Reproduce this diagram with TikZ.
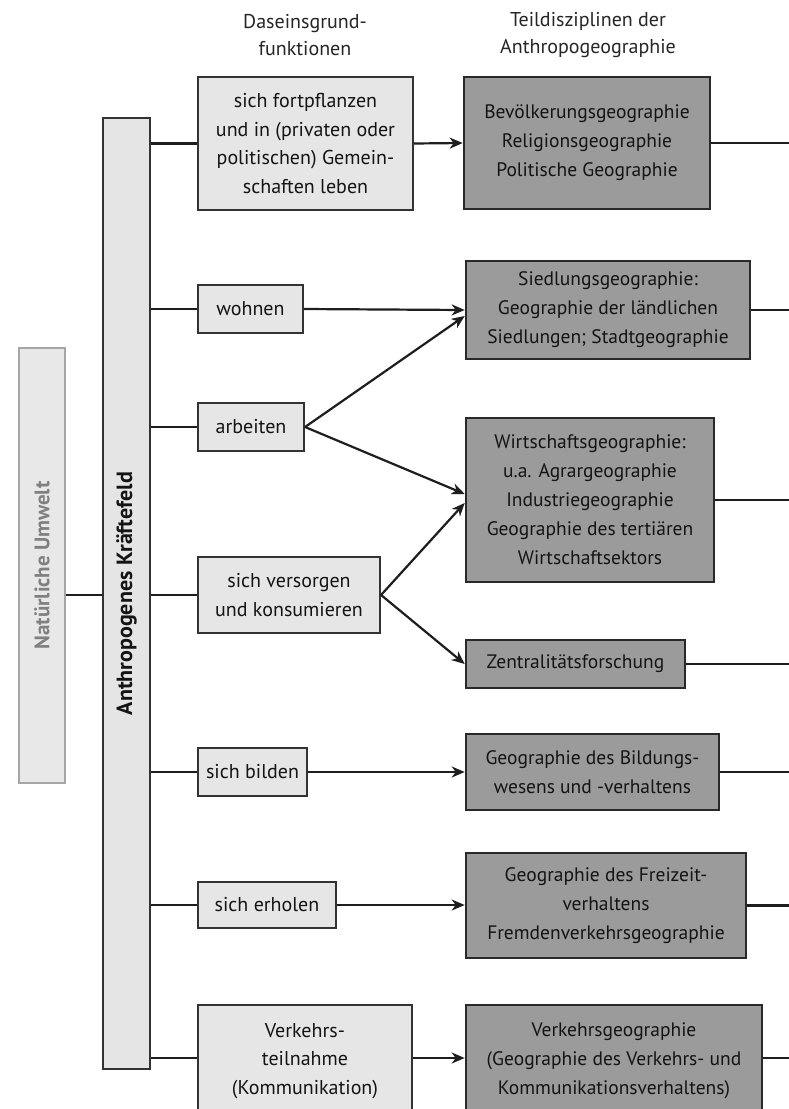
\documentclass[tikz,border=0pt]{standalone}
\usepackage{fontspec}
\setmainfont{PT Sans}
\usetikzlibrary{arrows.meta,calc}
\definecolor{lightfill}{HTML}{E6E6E6}
\definecolor{darkfill}{HTML}{9B9B9B}
\definecolor{edgecol}{HTML}{333333}
\definecolor{linecol}{HTML}{1E1E1E}
\begin{document}
\begin{tikzpicture}[x=1pt,y=-1pt,
  font=\fontsize{20}{28.5}\selectfont,
  lbox/.style={draw=edgecol, fill=lightfill, line width=2.1pt, align=center, inner sep=0pt, text=black!92},
  dbox/.style={draw=edgecol!80!black, fill=darkfill, line width=2.6pt, align=center, inner sep=0pt, text=black!92, font=\fontsize{19.5}{29}\selectfont},
  sz/.style 2 args={minimum width=#1pt, minimum height=#2pt},
  conn/.style={line width=2.2pt, draw=linecol},
  arr/.style={conn, -{Stealth[length=13pt,width=11pt,inset=4pt]}},
  header/.style={align=center, inner sep=0pt, font=\fontsize{20}{27}\selectfont, text=black!85},
  vlabel/.style={rotate=90, inner sep=0pt}
]
\useasboundingbox (0,0) rectangle (789,1109);
\clip (0,0) rectangle (789,1109);
\fill[white] (0,0) rectangle (789,1109);
\coordinate (edge) at (789,0);

% headers
\node[header] (h1) at (305,35) {Daseinsgrund-\\funktionen};
\node[header] (h2) at (588,35) {Teildisziplinen der\\Anthropogeographie};

% vertical bars
\node[draw=black!35, fill=black!9, line width=1.2pt, sz={46}{435}, inner sep=0pt] (nu) at (42,565.5) {};
\node[vlabel, text=black!50, font=\bfseries\fontsize{21}{22}\selectfont] (nut) at (nu.center) {Natürliche Umwelt};
\node[draw=edgecol, fill=black!10, line width=2.1pt, sz={47}{951}, inner sep=0pt] (kf) at (126.5,593.5) {};
\node[vlabel, text=black!92, font=\bfseries\fontsize{22}{24}\selectfont] (kft) at (kf.center) {Anthropogenes Kräftefeld};

% left column (Daseinsgrundfunktionen)
\node[lbox, sz={215}{133}] (b1) at (305.5,143.5) {sich fortpflanzen\\und in (privaten oder\\politischen) Gemein-\\schaften leben};
\node[lbox, sz={105}{48}] (b2) at (250.5,309) {wohnen};
\node[lbox, sz={106}{48}] (b3) at (251,427) {arbeiten};
\node[lbox, sz={182}{76}] (b4) at (289,595) {sich versorgen\\und konsumieren};
\node[lbox, sz={109}{48}] (b5) at (252.5,772) {sich bilden};
\node[lbox, sz={138}{46}] (b6) at (267,905) {sich erholen};
\node[lbox, sz={214}{112}] (b7) at (305,1061) {Verkehrs-\\teilnahme\\(Kommunikation)};

% right column (Teildisziplinen)
\node[dbox, sz={246}{132}] (d1) at (587,143) {Bevölkerungsgeographie\\Religionsgeographie\\Politische Geographie};
\node[dbox, sz={284}{98}] (d2) at (608,310) {Siedlungsgeographie:\\Geographie der ländlichen\\Siedlungen; Stadtgeographie};
\node[dbox, sz={248}{164}] (d3) at (590,500) {Wirtschaftsgeographie:\\u.a. Agrargeographie\\Industriegeographie\\Geographie des tertiären\\Wirtschaftsektors};
\node[dbox, sz={219}{48}] (d4) at (575.5,664) {Zentralitätsforschung};
\node[dbox, sz={253}{76}] (d5) at (592.5,772) {Geographie des Bildungs-\\wesens und -verhaltens};
\node[dbox, sz={280}{105}] (d6) at (606,905.5) {Geographie des Freizeit-\\verhaltens\\Fremdenverkehrsgeographie};
\node[dbox, sz={296}{112}] (d7) at (614,1061) {Verkehrsgeographie\\(Geographie des Verkehrs- und\\Kommunikationsverhaltens)};

% Natürliche Umwelt -> Kräftefeld
\draw[conn] (nu.east |- b4.west) -- (kf.west |- b4.west);

% Kräftefeld -> boxes
\foreach \b in {b1,b2,b3,b4,b5,b6} {
  \draw[conn] (kf.east |- \b.west) -- (\b.west);
}
\draw[conn] (kf.east |- 0,1058) -- (b7.west |- 0,1058);

% arrows to disciplines
\draw[arr] (b1.east) -- (d1.west);
\draw[arr] (b2.east) -- (d2.west);
\draw[arr] (b3.east) -- ($(d2.west)+(0,6)$);
\draw[arr] (b3.east) -- ($(d3.west)+(0,-6)$);
\draw[arr] (b4.east) -- ($(d3.west)+(0,3)$);
\draw[arr] (b4.east) -- (d4.west);
\draw[arr] (b5.east) -- (d5.west);
\draw[arr] (b6.east) -- (d6.west |- b6.east);
\draw[arr] (b7.east |- 0,1058) -- (d7.west |- 0,1058);

% lines to the right edge
\foreach \d in {d1,d2,d3,d4,d5,d6} {
  \draw[conn] (\d.east) -- (\d.east -| edge);
}
\draw[conn] (d7.east |- 0,1058) -- (edge |- 0,1058);
\end{tikzpicture}
\end{document}
